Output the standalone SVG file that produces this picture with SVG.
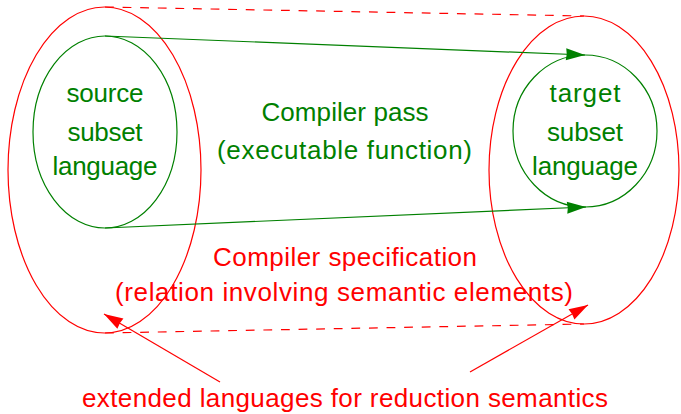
<svg xmlns="http://www.w3.org/2000/svg" width="681" height="414" viewBox="0 0 681 414">
<style>
.g{fill:none;stroke:#008000;stroke-width:1.2}
.r{fill:none;stroke:#ff0000;stroke-width:1.2}
.d{stroke-dasharray:8.8 8.8}
text{font-family:"Liberation Sans",Arial,sans-serif;font-size:26px;text-anchor:middle}
.tg{fill:#008000}
.tr{fill:#ff0000}
</style>
<defs>
<marker id="ag" markerUnits="userSpaceOnUse" markerWidth="22" markerHeight="14" refX="19" refY="6" orient="auto" overflow="visible">
<path d="M19,6 L0,12 Q1.5,6 0,0 Z" fill="#008000"/>
</marker>
<marker id="ar" markerUnits="userSpaceOnUse" markerWidth="22" markerHeight="14" refX="19" refY="6" orient="auto" overflow="visible">
<path d="M19,6 L0,12 Q1.5,6 0,0 Z" fill="#ff0000"/>
</marker>
</defs>
<rect width="681" height="414" fill="#ffffff"/>
<g id="source-extended">
<ellipse class="r" cx="104.5" cy="170" rx="96.5" ry="163"/>
</g>
<g id="source">
<ellipse class="g" cx="105" cy="132" rx="72" ry="96"/>
<text class="tg" x="105" y="102" textLength="77" lengthAdjust="spacing">source</text>
<text class="tg" x="105" y="141" textLength="75" lengthAdjust="spacing">subset</text>
<text class="tg" x="105" y="175" textLength="105" lengthAdjust="spacing">language</text>
</g>
<g id="target-extended">
<ellipse class="r" cx="584" cy="170" rx="95" ry="154"/>
</g>
<g id="target">
<ellipse class="g" cx="585" cy="131" rx="72" ry="76"/>
<text class="tg" x="585" y="102" textLength="71" lengthAdjust="spacing">target</text>
<text class="tg" x="585" y="141" textLength="76" lengthAdjust="spacing">subset</text>
<text class="tg" x="585" y="175" textLength="106" lengthAdjust="spacing">language</text>
</g>
<g id="connectors">
<line class="r d" x1="105" y1="7" x2="584" y2="16"/>
<line class="r d" x1="105" y1="333" x2="584" y2="324"/>
<line class="g" x1="105" y1="36" x2="585" y2="55" marker-end="url(#ag)"/>
<line class="g" x1="105" y1="228" x2="586" y2="207" marker-end="url(#ag)"/>
<line class="r" x1="220" y1="382" x2="104" y2="314" marker-end="url(#ar)"/>
<line class="r" x1="470" y1="372" x2="588" y2="305" marker-end="url(#ar)"/>
</g>
<g id="pass-label">
<text class="tg" x="345" y="121" textLength="167" lengthAdjust="spacing">Compiler pass</text>
<text class="tg" x="344.5" y="159" textLength="255" lengthAdjust="spacing">(executable function)</text>
</g>
<g id="spec-label">
<text class="tr" x="345" y="266" textLength="264" lengthAdjust="spacing">Compiler specification</text>
<text class="tr" x="344" y="301" textLength="458" lengthAdjust="spacing">(relation involving semantic elements)</text>
</g>
<g id="extended-label">
<text class="tr" x="345" y="407" textLength="526" lengthAdjust="spacing">extended languages for reduction semantics</text>
</g>
</svg>
